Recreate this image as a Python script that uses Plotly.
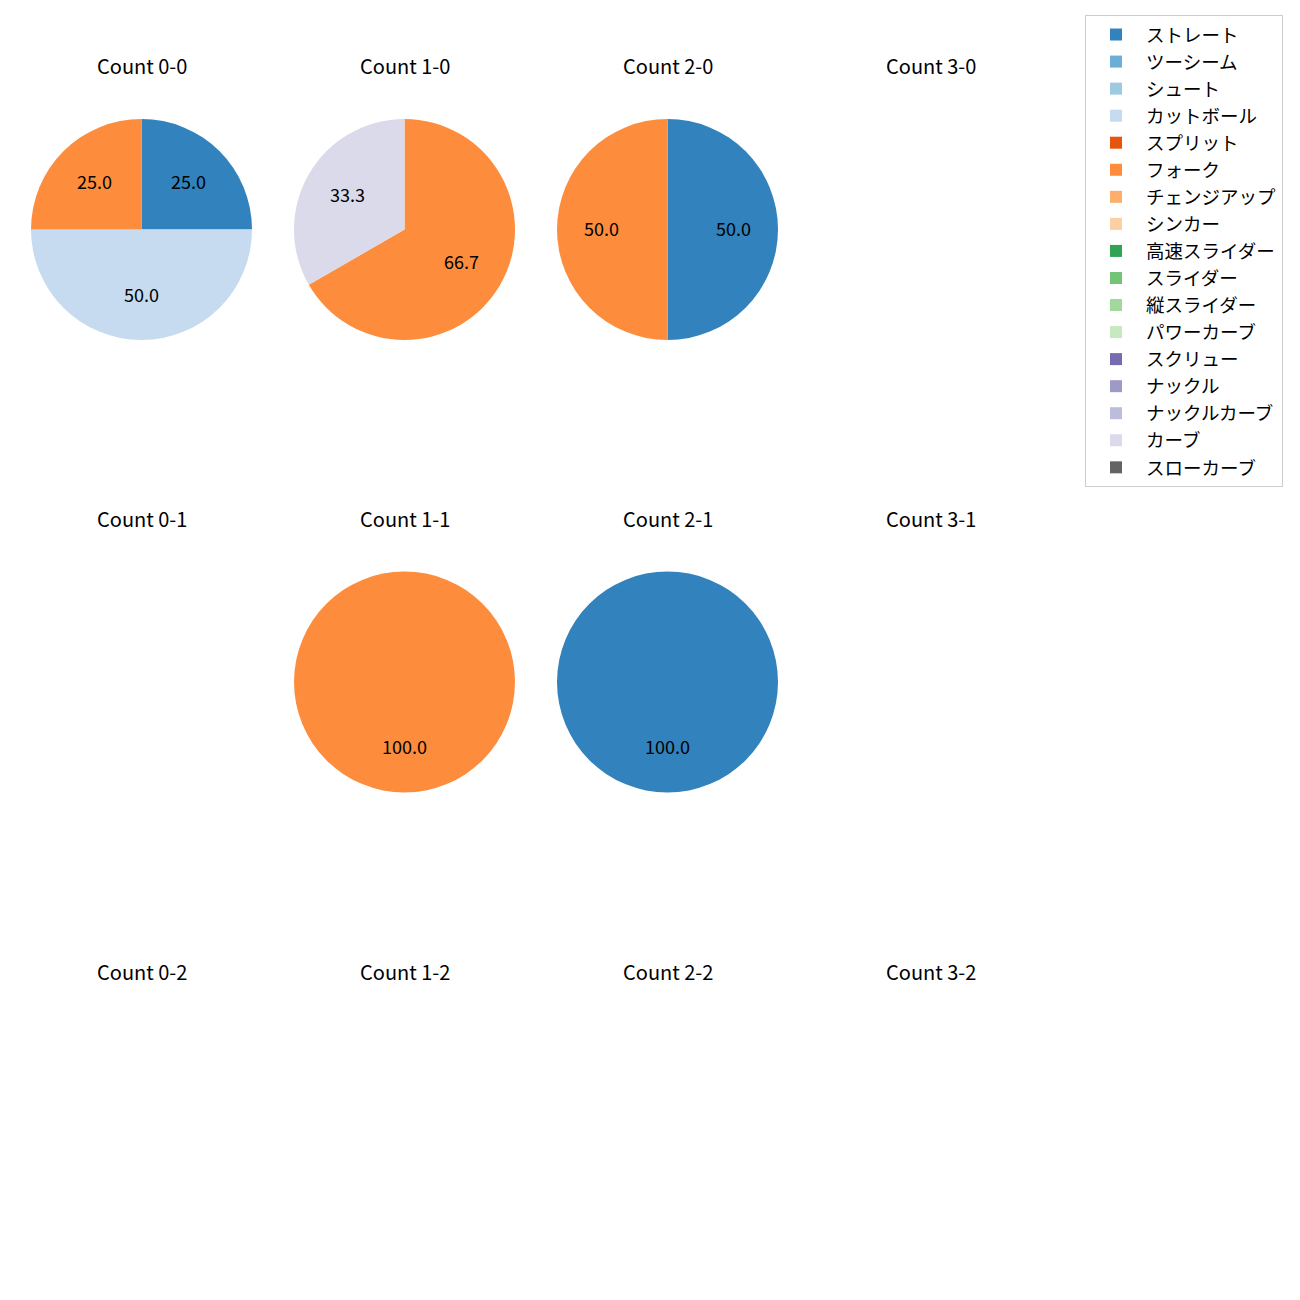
import math
import plotly.graph_objects as go

pitch_types = ["ストレート", "ツーシーム", "シュート", "カットボール", "スプリット", "フォーク",
               "チェンジアップ", "シンカー", "高速スライダー", "スライダー", "縦スライダー",
               "パワーカーブ", "スクリュー", "ナックル", "ナックルカーブ", "カーブ", "スローカーブ"]
colors = ["#3182bd", "#6baed6", "#9ecae1", "#c6dbef", "#e6550d", "#fd8d3c", "#fdae6b", "#fdd0a2",
          "#31a354", "#74c476", "#a1d99b", "#c7e9c0", "#756bb1", "#9e9ac8", "#bcbddc", "#dadaeb",
          "#636363"]

balls = [0, 1, 2, 3]
strikes = [0, 1, 2]

# pitch counts per (balls, strikes)
count_data = {
    (0, 0): {"ストレート": 1, "カットボール": 2, "フォーク": 1},
    (1, 0): {"フォーク": 2, "カーブ": 1},
    (2, 0): {"ストレート": 1, "フォーク": 1},
    (3, 0): {},
    (0, 1): {},
    (1, 1): {"フォーク": 1},
    (2, 1): {"ストレート": 1},
    (3, 1): {},
    (0, 2): {},
    (1, 2): {},
    (2, 2): {},
    (3, 2): {},
}

W = H = 1300
OFF = 8  # page body margin
col_cx = [141.5 - OFF, 404.5 - OFF, 667.5 - OFF, 930.5 - OFF]
row_cy = [229.5 - OFF, 682.0 - OFF, 1134.5 - OFF]
R = 110.5
FONT = "Noto Sans CJK JP"

fig = go.Figure()
annotations = []
for (b, s), d in count_data.items():
    cx, cy = col_cx[b], row_cy[s]
    annotations.append(dict(text=f"Count {b}-{s}", x=cx / W, y=1 - (cy - 163.5) / H,
                            xref="paper", yref="paper", showarrow=False,
                            font=dict(size=20, family=FONT, color="black"),
                            xanchor="center", yanchor="middle"))
    vals = [d.get(p, 0) for p in pitch_types]
    total = sum(vals)
    if total == 0:
        continue
    fig.add_trace(go.Pie(
        labels=pitch_types, values=vals, sort=False, direction="clockwise", rotation=0,
        marker=dict(colors=colors), textinfo="none", hoverinfo="label+percent",
        domain=dict(x=[(cx - R) / W, (cx + R) / W], y=[1 - (cy + R) / H, 1 - (cy - R) / H]),
        showlegend=True,
    ))
    # percentage labels at 0.6 radius, mid-angle of each slice
    start = 90.0
    for p, v in zip(pitch_types, vals):
        if v == 0:
            continue
        sweep = 360.0 * v / total
        mid = math.radians(start - sweep / 2)
        start -= sweep
        px = cx + 0.6 * R * math.cos(mid)
        py = cy - 0.6 * R * math.sin(mid) - 2
        annotations.append(dict(text=f"{100.0 * v / total:.1f}", x=px / W, y=1 - py / H,
                                xref="paper", yref="paper", showarrow=False,
                                font=dict(size=18, family=FONT, color="black"),
                                xanchor="center", yanchor="middle"))

# ensure all pitch types appear in the legend
fig.add_trace(go.Pie(labels=pitch_types, values=[1] * len(pitch_types), sort=False,
                     marker=dict(colors=colors), textinfo="none",
                     domain=dict(x=[0.999, 1.0], y=[0.0, 0.001]), opacity=0,
                     hoverinfo="skip", showlegend=True))

fig.update_layout(
    width=W, height=H, margin=dict(l=0, r=0, t=0, b=0),
    paper_bgcolor="white", plot_bgcolor="white",
    font=dict(family=FONT, color="black"),
    annotations=annotations,
    legend=dict(x=(1283 - OFF) / W, y=1 - (15 - OFF) / H, xanchor="right", yanchor="top",
                bordercolor="#cccccc", borderwidth=1, bgcolor="white",
                font=dict(size=18.5, family=FONT), tracegroupgap=0,
                itemsizing="constant", itemwidth=50),
)
fig.write_html("out.html")
